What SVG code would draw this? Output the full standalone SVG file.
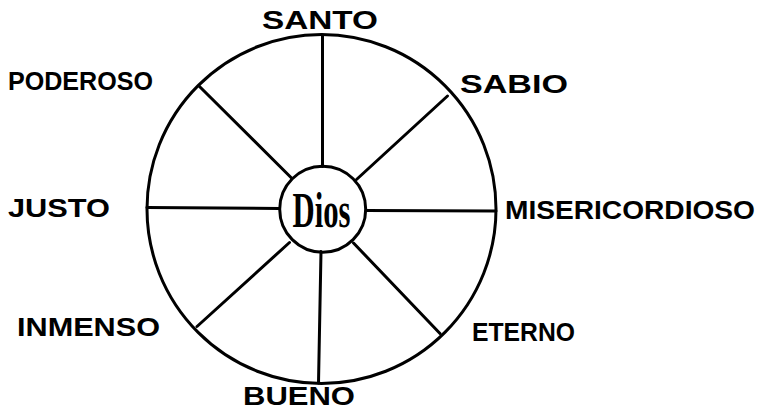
<svg xmlns="http://www.w3.org/2000/svg" width="758" height="410" viewBox="0 0 758 410">
<style>
.lbl{font-family:"Liberation Sans",Arial,sans-serif;font-weight:bold;font-size:25px;fill:#000}
.ln{stroke:#000;stroke-width:3;fill:none;stroke-linecap:round}
</style>
<rect width="758" height="410" fill="#fff"/>
<g id="rueda">
<circle class="ln" cx="321.5" cy="209" r="174.5"/>
</g>
<g id="connectors">
<line class="ln" x1="322.5" y1="35" x2="322.5" y2="166.5"/>
<line class="ln" x1="321" y1="251.5" x2="318.5" y2="383"/>
<line class="ln" x1="147" y1="207.5" x2="279.5" y2="208.5"/>
<line class="ln" x1="366" y1="210.5" x2="496" y2="211"/>
<line class="ln" x1="199" y1="86" x2="291.5" y2="178"/>
<line class="ln" x1="447.5" y1="96" x2="356.5" y2="179.5"/>
<line class="ln" x1="197" y1="326.5" x2="289.5" y2="242.5"/>
<line class="ln" x1="440" y1="333.5" x2="353.5" y2="243"/>
</g>
<g id="dios">
<circle class="ln" cx="322.7" cy="209.2" r="43"/>
<text x="292.5" y="227" font-family="'Liberation Serif','Times New Roman',serif" font-weight="bold" font-size="50" textLength="58" lengthAdjust="spacingAndGlyphs">Dios</text>
</g>
<g id="santo"><text class="lbl" x="262" y="28.5" textLength="116" lengthAdjust="spacingAndGlyphs">SANTO</text></g>
<g id="sabio"><text class="lbl" x="460" y="93" textLength="108" lengthAdjust="spacingAndGlyphs">SABIO</text></g>
<g id="poderoso"><text class="lbl" x="8" y="90" textLength="145" lengthAdjust="spacingAndGlyphs">PODEROSO</text></g>
<g id="justo"><text class="lbl" x="8" y="217" textLength="102" lengthAdjust="spacingAndGlyphs">JUSTO</text></g>
<g id="misericordioso"><text class="lbl" x="505" y="219" textLength="250" lengthAdjust="spacingAndGlyphs">MISERICORDIOSO</text></g>
<g id="inmenso"><text class="lbl" x="17" y="336" textLength="143" lengthAdjust="spacingAndGlyphs">INMENSO</text></g>
<g id="eterno"><text class="lbl" x="472" y="341" textLength="103" lengthAdjust="spacingAndGlyphs">ETERNO</text></g>
<g id="bueno"><text class="lbl" x="243" y="405" font-size="24" textLength="112" lengthAdjust="spacingAndGlyphs">BUENO</text></g>
</svg>
